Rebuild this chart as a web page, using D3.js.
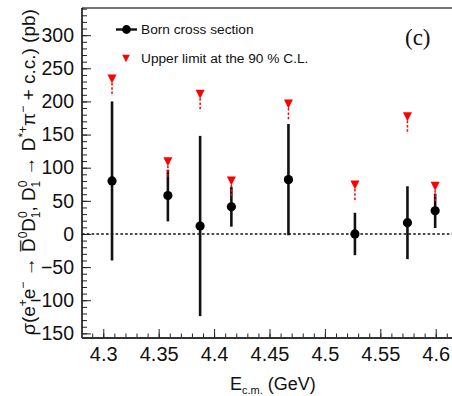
<!DOCTYPE html>
<html><head><meta charset="utf-8">
<script src="https://cdn.jsdelivr.net/npm/d3@7"></script>
<style>
html,body{margin:0;padding:0;background:#fff;}
svg{display:block;font-family:"Liberation Sans",Arial,Helvetica,sans-serif;}
</style></head>
<body>
<svg id="c" width="452" height="396"></svg>
<script>
// Data
const energy = [4.3079, 4.3583, 4.3874, 4.4156, 4.4671, 4.5271, 4.5745, 4.5995];
const sigma  = [80, 58, 12, 41, 82, 0, 17, 35];
const err    = [120, 39, 136, 30, 84, 32, 55, 26];
const upperLimit = [234, 109, 211, 80, 196, 74, 177, 72];
const xTicks = [4.3, 4.35, 4.4, 4.45, 4.5, 4.55, 4.6];
const xTickLabels = ["4.3", "4.35", "4.4", "4.45", "4.5", "4.55", "4.6"];
const yTicks = [-150, -100, -50, 0, 50, 100, 150, 200, 250, 300];
const legendLabels = ["Born cross section", "Upper limit at the 90 % C.L."];

const svg = d3.select("#c");
const L = 82, R = 452, T = 8, B = 338;
const x = d3.scaleLinear().domain([4.2808, 4.6147]).range([L, R]);
const y = d3.scaleLinear().domain([-157, 341]).range([B, T]);
const SANS = "'Liberation Sans', Arial, sans-serif";

// frame lines
svg.append("line").attr("x1", L).attr("x2", R).attr("y1", T).attr("y2", T)
  .attr("stroke", "#777").attr("stroke-width", 2);

// minor ticks
const yMinor = d3.range(-150, 341, 10);
svg.append("g").attr("transform", `translate(${L},0)`)
  .call(d3.axisLeft(y).tickValues(yMinor).tickSize(-5).tickFormat(""))
  .call(g => g.select(".domain").remove())
  .call(g => g.selectAll("line").attr("stroke", "#222"));
const xMinor = d3.range(4.29, 4.615, 0.01);
svg.append("g").attr("transform", `translate(0,${B})`)
  .call(d3.axisBottom(x).tickValues(xMinor).tickSize(-4.5).tickFormat(""))
  .call(g => g.select(".domain").remove())
  .call(g => g.selectAll("line").attr("stroke", "#222"));

// major axes
const yAxis = svg.append("g").attr("transform", `translate(${L},0)`)
  .call(d3.axisLeft(y).tickValues(yTicks).tickSizeInner(-9).tickSizeOuter(0).tickPadding(8)
    .tickFormat(d => d < 0 ? "\u2212" + Math.abs(d) : String(d)));
yAxis.select(".domain").attr("stroke", "#111").attr("stroke-width", 1.6)
  .attr("d", `M0,${T}V${B}`);
yAxis.selectAll("line").attr("stroke", "#222");
yAxis.selectAll("text").attr("font-size", 19.5).attr("fill", "#111").style("font-family", SANS);

const xAxis = svg.append("g").attr("transform", `translate(0,${B})`)
  .call(d3.axisBottom(x).tickValues(xTicks).tickSizeInner(-9).tickSizeOuter(0).tickPadding(9)
    .tickFormat((d, i) => xTickLabels[i]));
xAxis.select(".domain").attr("stroke", "#333").attr("stroke-width", 1.8)
  .attr("d", `M${L},0H${R}`);
xAxis.selectAll("line").attr("stroke", "#222");
xAxis.selectAll("text").attr("font-size", 20).attr("fill", "#111").style("font-family", SANS);

// zero line
svg.append("line").attr("x1", L).attr("x2", R).attr("y1", y(0)).attr("y2", y(0))
  .attr("stroke", "#111").attr("stroke-width", 1.6).attr("stroke-dasharray", "2.6,2.2");

const tri = (cx, cy, h) => `M${cx - h},${cy - h}L${cx + h},${cy - h}L${cx},${cy + h}Z`;

// error bars
const idx = d3.range(energy.length);
svg.append("g").selectAll("line").data(idx).join("line")
  .attr("x1", i => x(energy[i])).attr("x2", i => x(energy[i]))
  .attr("y1", i => y(sigma[i] - err[i])).attr("y2", i => y(sigma[i] + err[i]))
  .attr("stroke", "#111").attr("stroke-width", 2.6);
svg.append("g").selectAll("circle").data(idx).join("circle")
  .attr("cx", i => x(energy[i])).attr("cy", i => y(sigma[i])).attr("r", 4.6)
  .attr("fill", "#000");

// upper limits
svg.append("g").selectAll("line").data(idx).join("line")
  .attr("x1", i => x(energy[i])).attr("x2", i => x(energy[i]))
  .attr("y1", i => y(upperLimit[i]) + 4).attr("y2", i => y(upperLimit[i]) + 17)
  .attr("stroke", "#ff0000").attr("stroke-width", 1.5).attr("stroke-dasharray", "2.5,1.8");
svg.append("g").selectAll("path").data(idx).join("path")
  .attr("d", i => tri(x(energy[i]), y(upperLimit[i]), 4.5))
  .attr("fill", "#ff0000");

// legend
svg.append("line").attr("x1", 116).attr("x2", 137).attr("y1", 29.5).attr("y2", 29.5)
  .attr("stroke", "#111").attr("stroke-width", 2.4);
svg.append("circle").attr("cx", 126.5).attr("cy", 29.5).attr("r", 4.4).attr("fill", "#000");
svg.append("path").attr("d", tri(126, 58.5, 3.8)).attr("fill", "#ff0000");
svg.append("text").attr("x", 141).attr("y", 34.3).attr("font-size", 13.7).attr("fill", "#111").text(legendLabels[0]);
svg.append("text").attr("x", 141).attr("y", 63.3).attr("font-size", 13.7).attr("fill", "#111").text(legendLabels[1]);

// panel label
svg.append("text").attr("x", 405).attr("y", 45).attr("font-size", 23)
  .style("font-family", "'Liberation Serif', 'Times New Roman', serif").attr("fill", "#111").text("(c)");

// x title
const xt = svg.append("text").attr("x", 230).attr("y", 390).attr("font-size", 18).attr("fill", "#111");
xt.append("tspan").text("E");
xt.append("tspan").attr("font-size", 11).attr("dy", 3.5).text("c.m.");
xt.append("tspan").attr("dy", -3.5).text(" (GeV)");

// y title
const yt = svg.append("text").attr("transform", "translate(35,172) rotate(-90)")
  .attr("text-anchor", "middle").attr("font-size", 19).attr("fill", "#111");
const parts = [
  ["σ(e", 0], ["+", -8, 12], ["e", 0], ["−", -8, 12], [" → ", 0],
  ["D\u0305", 0], ["0", -8, 12], ["D", 0], ["0", -8, 12, 0], ["1", 5, 12, -7], [", D", 0],
  ["0", -8, 12], ["1", 5, 12, -7], [" → D", 0], ["*+", -8, 12], ["π", 0], ["−", -8, 12],
  [" + c.c.) (pb)", 0]
];
let cur = 0;
parts.forEach(p => {
  const [t, shift, fs, dx] = p;
  const ts = yt.append("tspan").text(t).attr("dy", shift - cur);
  if (fs) ts.attr("font-size", fs);
  if (dx) ts.attr("dx", dx);
  cur = shift;
});
</script>
</body></html>
